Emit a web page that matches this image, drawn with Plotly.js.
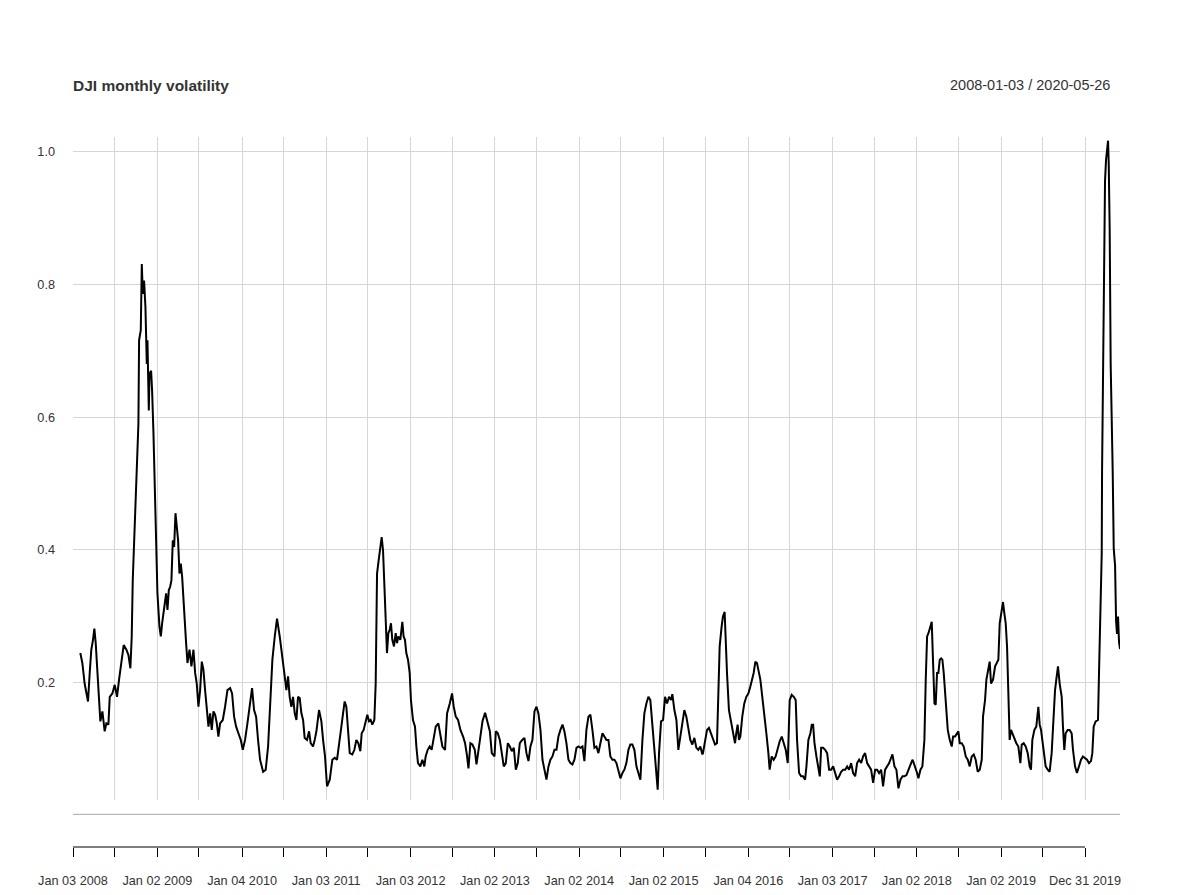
<!DOCTYPE html>
<html><head><meta charset="utf-8">
<script src="https://cdn.plot.ly/plotly-3.0.1.min.js"></script>
<style>html,body{margin:0;padding:0;background:#fff}#chart{width:1194px;height:895px}</style>
</head><body><div id="chart"></div>
<script>
const years = [
2008.092,2008.116,2008.143,2008.163,2008.183,2008.203,2008.222,2008.242,2008.258,2008.274,
2008.289,2008.313,2008.329,2008.353,2008.380,2008.400,2008.424,2008.440,2008.471,2008.499,
2008.526,2008.550,2008.578,2008.605,2008.637,2008.661,2008.684,
2008.700,2008.712,2008.728,2008.744,2008.760,2008.779,2008.787,2008.807,2008.819,2008.831,
2008.846,2008.862,2008.878,2008.886,2008.902,2008.910,2008.929,2008.941,2008.957,2008.977,
2008.989,2009.004,2009.028,2009.044,2009.060,2009.083,2009.107,2009.123,2009.139,2009.155,
2009.170,2009.186,2009.202,2009.218,2009.234,2009.249,2009.265,2009.281,2009.297,2009.320,
2009.344,2009.360,2009.384,2009.407,2009.431,2009.451,2009.470,2009.490,2009.510,2009.530,
2009.549,2009.569,2009.589,2009.609,2009.629,2009.648,2009.668,2009.688,2009.708,2009.727,
2009.747,2009.779,2009.806,2009.834,2009.866,2009.889,2009.913,2009.937,2009.964,2009.992,
2010.016,2010.043,2010.071,2010.103,2010.126,2010.150,2010.174,2010.197,2010.221,
2010.257,2010.288,2010.316,2010.343,2010.367,2010.395,2010.422,2010.454,2010.486,
2010.494,2010.513,2010.533,2010.553,2010.572,2010.592,2010.612,2010.632,2010.652,2010.671,
2010.691,2010.711,2010.731,2010.750,2010.778,2010.802,2010.821,2010.849,2010.869,2010.889,
2010.920,2010.948,2010.968,2010.991,2011.015,2011.047,2011.078,2011.106,2011.133,2011.157,
2011.185,2011.205,2011.224,2011.244,2011.264,2011.284,2011.315,2011.339,2011.363,2011.386,
2011.410,2011.426,2011.449,2011.473,2011.493,2011.513,2011.532,2011.552,2011.576,2011.592,
2011.608,2011.627,2011.647,2011.663,2011.679,2011.694,2011.710,2011.726,2011.742,2011.758,
2011.773,2011.789,2011.809,2011.829,2011.845,2011.860,2011.884,2011.908,2011.923,2011.939,
2011.955,2011.975,2011.995,2012.010,2012.034,2012.058,2012.074,2012.093,2012.121,2012.145,
2012.168,2012.184,2012.208,2012.232,2012.255,2012.279,2012.303,2012.334,2012.358,2012.382,
2012.413,2012.437,2012.469,2012.496,2012.516,2012.540,2012.567,2012.595,2012.627,2012.650,
2012.674,2012.690,2012.713,2012.737,2012.765,2012.785,2012.804,2012.824,2012.856,2012.887,
2012.911,2012.943,2012.966,2012.998,
2013.014,2013.037,2013.061,2013.085,2013.108,2013.132,2013.156,2013.180,2013.203,2013.227,
2013.251,2013.274,2013.298,2013.326,2013.353,2013.377,2013.401,2013.424,2013.448,2013.472,
2013.496,2013.519,2013.543,2013.567,2013.590,2013.614,2013.638,2013.661,2013.685,2013.709,
2013.733,2013.756,2013.780,2013.804,2013.827,2013.851,2013.875,2013.898,2013.922,2013.946,
2013.970,2013.993,2014.017,2014.041,2014.064,2014.088,2014.112,2014.135,2014.159,2014.183,
2014.207,2014.230,2014.254,2014.278,2014.301,2014.325,2014.349,2014.372,2014.396,2014.420,
2014.444,2014.467,2014.491,2014.515,2014.538,2014.562,2014.586,2014.609,2014.633,2014.657,
2014.681,2014.704,2014.728,2014.752,2014.775,2014.799,2014.823,2014.846,2014.870,2014.894,
2014.918,2014.933,2014.949,2014.973,2014.997,2015.020,2015.044,2015.068,2015.091,2015.107,
2015.131,2015.155,2015.178,2015.202,2015.226,2015.249,2015.273,2015.297,2015.320,2015.344,
2015.368,2015.392,2015.415,2015.439,2015.463,
2015.470,2015.494,2015.518,2015.541,2015.565,2015.589,2015.613,2015.636,2015.652,2015.668,
2015.691,2015.707,2015.727,2015.739,2015.755,2015.778,2015.802,2015.826,2015.850,2015.865,
2015.881,2015.897,2015.913,2015.936,2015.960,2015.984,2016.008,2016.031,2016.055,2016.071,
2016.091,2016.110,2016.126,2016.150,2016.173,2016.197,2016.221,2016.245,2016.260,2016.284,
2016.308,2016.331,2016.355,2016.379,2016.403,2016.426,2016.450,2016.474,2016.497,2016.521,
2016.545,2016.568,2016.584,2016.608,2016.632,2016.655,2016.679,2016.695,2016.718,2016.742,
2016.758,2016.774,2016.790,2016.813,2016.837,2016.853,2016.869,2016.892,2016.916,2016.940,
2016.963,2016.987,2017.011,2017.035,2017.058,2017.082,2017.106,2017.129,2017.153,2017.177,
2017.200,2017.224,2017.248,2017.272,2017.295,2017.319,2017.343,2017.366,2017.390,2017.414,
2017.437,2017.461,2017.485,2017.509,2017.532,2017.556,2017.580,2017.603,2017.627,2017.651,
2017.675,2017.698,2017.714,2017.738,2017.761,2017.785,2017.809,2017.833,2017.856,2017.880,
2017.904,2017.927,2017.951,
2017.959,2017.983,2018.006,2018.022,2018.046,2018.069,2018.093,2018.109,2018.125,2018.141,
2018.156,2018.180,2018.196,2018.212,2018.227,2018.243,2018.259,2018.275,2018.291,2018.306,
2018.322,2018.338,2018.354,2018.370,2018.393,2018.417,2018.433,2018.457,2018.480,2018.496,
2018.512,2018.536,2018.559,2018.583,2018.607,2018.630,2018.654,2018.678,2018.701,2018.725,
2018.749,2018.773,2018.788,2018.812,2018.828,2018.852,2018.867,2018.883,2018.907,2018.931,
2018.946,2018.970,2018.986,2019.006,2019.025,2019.041,2019.057,2019.073,2019.089,2019.104,
2019.120,2019.136,2019.160,2019.183,2019.207,2019.231,2019.247,2019.270,2019.294,2019.318,
2019.341,2019.357,2019.373,2019.397,2019.420,2019.444,2019.460,2019.476,2019.491,2019.515,
2019.531,2019.555,2019.578,2019.602,2019.618,2019.642,2019.657,2019.677,2019.697,2019.721,
2019.736,2019.752,2019.768,2019.792,2019.815,2019.839,2019.855,2019.879,2019.902,2019.926,
2019.950,2019.973,2019.997,2020.021,2020.044,2020.068,2020.084,2020.100,2020.123,2020.151,
2020.163,2020.179,2020.195,
2020.199,2020.210,2020.222,2020.234,2020.246,2020.258,2020.270,2020.278,2020.289,2020.301,
2020.313,2020.325,2020.337,2020.353,2020.365,2020.376,2020.388,2020.400,2020.412
];

// Monthly (rolling) volatility values
const vol = [
0.244,0.229,0.198,0.183,0.171,0.214,0.249,0.264,0.281,0.259,
0.224,0.178,0.141,0.156,0.126,0.138,0.136,0.178,0.183,0.196,
0.178,0.204,0.229,0.256,0.249,0.241,0.221,
0.269,0.354,0.414,0.480,0.525,0.590,0.716,0.731,0.831,0.786,
0.806,0.766,0.680,0.716,0.610,0.665,0.670,0.640,0.575,0.465,
0.414,0.334,0.284,0.269,0.289,0.314,0.334,0.309,0.339,0.344,
0.354,0.414,0.404,0.455,0.434,0.414,0.364,0.379,0.359,0.299,
0.259,0.229,0.249,0.224,0.249,0.214,0.198,0.163,0.188,0.231,
0.219,0.188,0.158,0.133,0.153,0.128,0.156,0.151,0.138,0.118,
0.138,0.143,0.163,0.188,0.191,0.183,0.148,0.133,0.123,0.113,
0.098,0.113,0.138,0.173,0.191,0.158,0.148,0.113,0.083,
0.065,0.068,0.103,0.178,0.234,0.269,0.296,0.269,0.239,
0.234,0.209,0.188,0.209,0.178,0.163,0.178,0.153,0.143,0.178,
0.176,0.153,0.143,0.116,0.113,0.126,0.108,0.103,0.113,0.126,
0.158,0.141,0.113,0.088,0.043,0.053,0.083,0.086,0.083,0.103,
0.133,0.153,0.171,0.163,0.128,0.093,0.091,0.098,0.113,0.108,
0.096,0.123,0.128,0.143,0.151,0.141,0.143,0.136,0.143,0.198,
0.364,0.384,0.404,0.419,0.399,0.339,0.279,0.244,0.274,0.279,
0.289,0.264,0.254,0.274,0.259,0.269,0.264,0.291,0.269,0.264,
0.244,0.234,0.214,0.173,0.143,0.133,0.103,0.078,0.073,0.083,
0.073,0.088,0.098,0.103,0.098,0.113,0.133,0.138,0.118,0.103,
0.098,0.153,0.168,0.183,0.163,0.148,0.143,0.128,0.118,0.108,
0.088,0.070,0.108,0.106,0.098,0.076,0.093,0.113,0.141,0.154,
0.143,0.126,0.093,0.088,
0.126,0.123,0.113,0.088,0.073,0.078,0.108,0.103,0.096,0.101,
0.068,0.078,0.108,0.113,0.116,0.093,0.081,0.103,0.113,0.156,
0.163,0.153,0.128,0.083,0.068,0.053,0.073,0.083,0.088,0.098,
0.098,0.118,0.128,0.136,0.126,0.108,0.083,0.078,0.076,0.083,
0.101,0.103,0.101,0.103,0.081,0.128,0.148,0.151,0.128,0.101,
0.103,0.093,0.108,0.123,0.118,0.113,0.113,0.088,0.083,0.083,
0.078,0.068,0.055,0.063,0.068,0.078,0.098,0.106,0.106,0.098,
0.073,0.063,0.053,0.113,0.153,0.168,0.178,0.173,0.133,0.093,
0.063,0.038,0.093,0.141,0.143,0.178,0.168,0.178,0.173,0.182,
0.158,0.143,0.098,0.118,0.143,0.158,0.148,0.126,0.113,0.106,
0.116,0.101,0.098,0.103,0.091,
0.093,0.113,0.128,0.131,0.123,0.113,0.106,0.108,0.188,0.254,
0.284,0.299,0.306,0.254,0.214,0.158,0.143,0.123,0.108,0.123,
0.136,0.113,0.118,0.148,0.168,0.178,0.183,0.193,0.204,0.214,
0.231,0.229,0.219,0.204,0.178,0.153,0.123,0.093,0.068,0.088,
0.083,0.088,0.101,0.111,0.118,0.108,0.098,0.078,0.173,0.181,
0.178,0.173,0.113,0.063,0.058,0.058,0.053,0.073,0.113,0.123,
0.136,0.136,0.108,0.088,0.073,0.058,0.101,0.101,0.098,0.093,
0.068,0.068,0.073,0.063,0.053,0.058,0.065,0.068,0.068,0.073,
0.068,0.078,0.063,0.058,0.078,0.083,0.078,0.088,0.093,0.078,
0.073,0.068,0.048,0.068,0.068,0.063,0.068,0.043,0.068,0.073,
0.078,0.086,0.091,0.073,0.068,0.040,0.053,0.058,0.058,0.060,
0.068,0.078,0.083,
0.081,0.073,0.063,0.055,0.068,0.073,0.113,0.204,0.269,0.274,
0.281,0.291,0.229,0.168,0.166,0.214,0.214,0.234,0.236,0.234,
0.214,0.183,0.163,0.128,0.113,0.103,0.118,0.118,0.123,0.126,
0.108,0.108,0.103,0.088,0.083,0.073,0.088,0.091,0.083,0.065,
0.068,0.083,0.148,0.173,0.204,0.219,0.231,0.198,0.204,0.224,
0.229,0.234,0.289,0.304,0.321,0.304,0.289,0.254,0.188,0.113,
0.128,0.123,0.113,0.108,0.103,0.078,0.106,0.108,0.103,0.093,
0.073,0.068,0.113,0.128,0.133,0.163,0.136,0.128,0.113,0.088,
0.073,0.068,0.065,0.093,0.133,0.188,0.204,0.224,0.198,0.178,
0.133,0.098,0.123,0.128,0.128,0.123,0.098,0.073,0.063,0.073,
0.083,0.088,0.086,0.083,0.078,0.081,0.093,0.133,0.141,0.143,
0.214,0.314,0.394,
0.518,0.698,0.840,0.956,0.988,1.008,1.017,0.982,0.885,0.679,
0.614,0.518,0.402,0.376,0.292,0.273,0.299,0.260,0.250
];

// Axis ticks (half-year breaks) and their labels
const tickDates = ["2008-01-03","2008-07-01","2009-01-02","2009-07-01","2010-01-04","2010-07-01",
  "2011-01-03","2011-07-01","2012-01-03","2012-07-02","2013-01-02","2013-07-01","2014-01-02",
  "2014-07-01","2015-01-02","2015-07-01","2016-01-04","2016-07-01","2017-01-03","2017-07-03",
  "2018-01-02","2018-07-02","2019-01-02","2019-07-01","2019-12-31"];
const tickLabels = ["Jan 03 2008","","Jan 02 2009","","Jan 04 2010","","Jan 03 2011","",
  "Jan 03 2012","","Jan 02 2013","","Jan 02 2014","","Jan 02 2015","","Jan 04 2016","",
  "Jan 03 2017","","Jan 02 2018","","Jan 02 2019","","Dec 31 2019"];
const yTicks = [0.2, 0.4, 0.6, 0.8, 1.0];
const yTickLabels = ["0.2", "0.4", "0.6", "0.8", "1.0"];
const chartTitle = "DJI monthly volatility";
const periodText = "2008-01-03 / 2020-05-26";

function yearToDateStr(t) {
  const y = Math.floor(t);
  const a = Date.UTC(y, 0, 1), b = Date.UTC(y + 1, 0, 1);
  return new Date(a + (t - y) * (b - a)).toISOString().slice(0, 19).replace('T', ' ');
}
const xDates = years.map(yearToDateStr);

const FONT = '"Liberation Sans", Arial, Helvetica, sans-serif';
const GRID = '#d6d6d6';

const traces = [
  { x: xDates, y: vol, type: 'scatter', mode: 'lines', xaxis: 'x', yaxis: 'y',
    line: { color: '#000000', width: 2 }, hoverinfo: 'x+y', showlegend: false },
  { x: [tickDates[0]], y: [null], type: 'scatter', mode: 'lines', xaxis: 'x2', yaxis: 'y',
    hoverinfo: 'skip', showlegend: false }
];

const layout = {
  width: 1194, height: 895,
  margin: { l: 73, r: 74, t: 137, b: 48, pad: 0 },
  paper_bgcolor: '#ffffff', plot_bgcolor: '#ffffff',
  showlegend: false,
  font: { family: FONT, color: '#333333', size: 12.7 },
  xaxis: {
    type: 'date', range: ['2008-01-03', '2020-05-30 12:00'],
    tickmode: 'array', tickvals: tickDates.slice(1), showticklabels: false, ticks: '',
    showgrid: true, gridcolor: GRID, gridwidth: 1, zeroline: false, showline: false, fixedrange: true
  },
  xaxis2: {
    type: 'date', overlaying: 'x', matches: 'x', anchor: 'free', position: 0,
    tickmode: 'array', tickvals: tickDates, ticktext: tickLabels,
    ticks: 'outside', ticklen: 9, tickwidth: 1, tickcolor: '#000000',
    ticklabelstandoff: 13,
    tickfont: { family: FONT, size: 12.7, color: '#333333' },
    showgrid: false, showline: false, zeroline: false, fixedrange: true
  },
  yaxis: {
    domain: [0.0662, 1], range: [0.0223, 1.0226],
    tickmode: 'array', tickvals: yTicks, ticktext: yTickLabels,
    ticks: '', ticklabelstandoff: 17,
    tickfont: { family: FONT, size: 12.7, color: '#333333' },
    showgrid: true, gridcolor: GRID, gridwidth: 1, zeroline: false, showline: false, fixedrange: true
  },
  shapes: [
    { type: 'line', xref: 'paper', yref: 'paper', x0: 0, x1: 1, y0: 0.046, y1: 0.046,
      line: { color: '#a8a8a8', width: 1 } },
    { type: 'line', xref: 'x', yref: 'paper', x0: tickDates[0], x1: tickDates[tickDates.length - 1],
      y0: 0, y1: 0, line: { color: '#000000', width: 1 } }
  ],
  annotations: [
    { xref: 'paper', yref: 'paper', x: 0, y: 1.073, xanchor: 'left', yanchor: 'middle', xshift: -2,
      text: '<b>' + chartTitle + '</b>', showarrow: false,
      font: { family: FONT, size: 15.5, color: '#333333' } },
    { xref: 'paper', yref: 'paper', x: 0.9905, y: 1.073, xanchor: 'right', yanchor: 'middle', xshift: 2,
      text: periodText, showarrow: false,
      font: { family: FONT, size: 14.5, color: '#333333' } }
  ]
};

Plotly.newPlot('chart', traces, layout, { displayModeBar: false, staticPlot: true });
</script>
</body></html>
